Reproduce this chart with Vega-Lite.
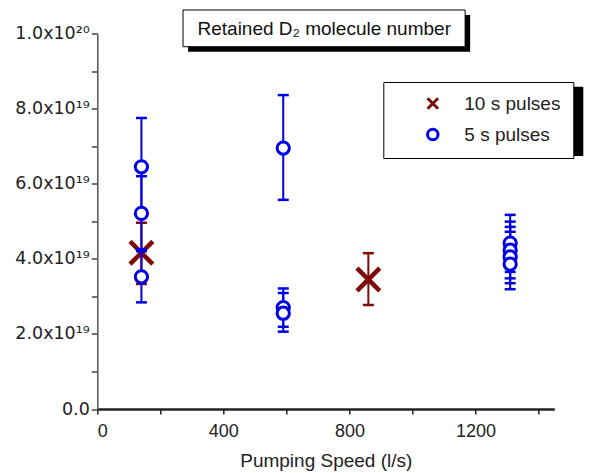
{
  "$schema": "https://vega.github.io/schema/vega-lite/v6.json",
  "autosize": "none",
  "padding": {"left": 97.3, "top": 33.5, "right": 34.7, "bottom": 64},
  "width": 457,
  "height": 375.5,
  "background": "white",
  "data": {"values": [
    {"series": "10 s pulses", "speed": 140, "n": 4.16e19, "lo": 3.33e19, "hi": 4.96e19},
    {"series": "10 s pulses", "speed": 860, "n": 3.45e19, "lo": 2.77e19, "hi": 4.15e19},
    {"series": "5 s pulses", "speed": 140, "n": 6.45e19, "lo": 5.15e19, "hi": 7.75e19},
    {"series": "5 s pulses", "speed": 140, "n": 5.21e19, "lo": 4.25e19, "hi": 6.2e19},
    {"series": "5 s pulses", "speed": 140, "n": 3.52e19, "lo": 2.84e19, "hi": 4.2e19},
    {"series": "5 s pulses", "speed": 590, "n": 6.95e19, "lo": 5.57e19, "hi": 8.36e19},
    {"series": "5 s pulses", "speed": 590, "n": 2.7e19, "lo": 2.19e19, "hi": 3.21e19},
    {"series": "5 s pulses", "speed": 590, "n": 2.55e19, "lo": 2.06e19, "hi": 3.09e19},
    {"series": "5 s pulses", "speed": 1310, "n": 4.42e19, "lo": 3.65e19, "hi": 5.17e19},
    {"series": "5 s pulses", "speed": 1310, "n": 4.23e19, "lo": 3.48e19, "hi": 4.99e19},
    {"series": "5 s pulses", "speed": 1310, "n": 4.05e19, "lo": 3.35e19, "hi": 4.85e19},
    {"series": "5 s pulses", "speed": 1310, "n": 3.86e19, "lo": 3.19e19, "hi": 4.72e19}
  ]},
  "layer": [
    {
      "data": {"values": [{}]},
      "mark": {"type": "rect", "color": "black"},
      "encoding": {
        "x": {"datum": 288, "type": "quantitative"},
        "x2": {"datum": 1183},
        "y": {"datum": 1.0493e20, "type": "quantitative"},
        "y2": {"datum": 0.9515e20}
      }
    },
    {
      "data": {"values": [{}]},
      "mark": {"type": "rect", "fill": "white", "stroke": "black", "strokeWidth": 1},
      "encoding": {
        "x": {"datum": 272, "type": "quantitative"},
        "x2": {"datum": 1167},
        "y": {"datum": 1.0626e20, "type": "quantitative"},
        "y2": {"datum": 0.9648e20}
      }
    },
    {
      "data": {"values": [{"label": "Retained D₂ molecule number"}]},
      "mark": {"type": "text", "font": "Liberation Sans", "fontSize": 19, "color": "#111", "align": "center", "baseline": "middle"},
      "encoding": {
        "x": {"datum": 720, "type": "quantitative"},
        "y": {"datum": 1.013e20, "type": "quantitative"},
        "text": {"field": "label"}
      }
    },
    {
      "data": {"values": [{}]},
      "mark": {"type": "rect", "color": "black"},
      "encoding": {
        "x": {"datum": 923, "type": "quantitative"},
        "x2": {"datum": 1542},
        "y": {"datum": 8.58e19, "type": "quantitative"},
        "y2": {"datum": 6.74e19}
      }
    },
    {
      "transform": [{"filter": "datum.series == '10 s pulses'"}],
      "mark": {"type": "rule", "color": "#7f0a0a", "strokeWidth": 2},
      "encoding": {
        "x": {"field": "speed", "type": "quantitative"},
        "y": {"field": "lo", "type": "quantitative"},
        "y2": {"field": "hi"}
      }
    },
    {
      "transform": [{"filter": "datum.series == '10 s pulses'"}, {"fold": ["lo", "hi"], "as": ["end", "yv"]}],
      "mark": {"type": "tick", "orient": "horizontal", "color": "#7f0a0a", "size": 11, "thickness": 2.5, "opacity": 1},
      "encoding": {
        "x": {"field": "speed", "type": "quantitative"},
        "y": {"field": "yv", "type": "quantitative"}
      }
    },
    {
      "transform": [{"filter": "datum.series == '10 s pulses'"}],
      "mark": {"type": "point", "filled": false, "size": 520, "strokeWidth": 4.5, "opacity": 1},
      "encoding": {
        "x": {"field": "speed", "type": "quantitative"},
        "y": {"field": "n", "type": "quantitative"},
        "color": {"field": "series", "type": "nominal", "scale": {"domain": ["10 s pulses", "5 s pulses"], "range": ["#7f0a0a", "#0000e6"]}},
        "shape": {"field": "series", "type": "nominal", "scale": {"domain": ["10 s pulses", "5 s pulses"], "range": ["M-1,-1L1,1M-1,1L1,-1", "circle"]}}
      }
    },
    {
      "transform": [{"filter": "datum.series == '5 s pulses'"}],
      "mark": {"type": "rule", "color": "#0000e6", "strokeWidth": 2},
      "encoding": {
        "x": {"field": "speed", "type": "quantitative"},
        "y": {"field": "lo", "type": "quantitative"},
        "y2": {"field": "hi"}
      }
    },
    {
      "transform": [{"filter": "datum.series == '5 s pulses'"}, {"fold": ["lo", "hi"], "as": ["end", "yv"]}],
      "mark": {"type": "tick", "orient": "horizontal", "color": "#0000e6", "size": 11, "thickness": 2.5, "opacity": 1},
      "encoding": {
        "x": {"field": "speed", "type": "quantitative"},
        "y": {"field": "yv", "type": "quantitative"}
      }
    },
    {
      "transform": [{"filter": "datum.series == '5 s pulses'"}],
      "mark": {"type": "point", "filled": false, "fill": "white", "size": 150, "strokeWidth": 3, "opacity": 1},
      "encoding": {
        "x": {"field": "speed", "type": "quantitative"},
        "y": {"field": "n", "type": "quantitative"},
        "color": {"field": "series", "type": "nominal", "scale": {"domain": ["10 s pulses", "5 s pulses"], "range": ["#7f0a0a", "#0000e6"]}},
        "shape": {"field": "series", "type": "nominal", "scale": {"domain": ["10 s pulses", "5 s pulses"], "range": ["M-1,-1L1,1M-1,1L1,-1", "circle"]}}
      }
    }
  ],
  "resolve": {"scale": {"x": "shared", "y": "shared"}},
  "encoding": {
    "x": {
      "type": "quantitative",
      "scale": {"domain": [0, 1450], "nice": false, "zero": false},
      "axis": {
        "values": [0, 200, 400, 600, 800, 1000, 1200, 1400],
        "format": "d",
        "labelExpr": "datum.value % 400 == 0 ? datum.label : ''",
        "title": "Pumping Speed (l/s)",
        "tickSize": 5,
        "tickWidth": 1.5,
        "tickColor": "#222",
        "domainColor": "#222",
        "domainWidth": 2.5,
        "labelFontSize": 18,
        "labelPadding": 8,
        "titleFontSize": 19,
        "titlePadding": 11
      }
    },
    "y": {
      "type": "quantitative",
      "scale": {"domain": [0, 1e20], "nice": false, "zero": false},
      "axis": {
        "values": [0, 1e19, 2e19, 3e19, 4e19, 5e19, 6e19, 7e19, 8e19, 9e19, 1e20],
        "labelExpr": "datum.value == 0 ? '0.0' : (round(datum.value/1e19) % 2 == 1 ? '' : (datum.value >= 9.9e19 ? '1.0x10²⁰' : format(datum.value/1e19, '.1f') + 'x10¹⁹'))",
        "title": null,
        "tickSize": 6,
        "tickWidth": 1.5,
        "tickColor": "#444",
        "domainColor": "#555",
        "domainWidth": 1.5,
        "labelFont": "DejaVu Sans",
        "labelFontSize": 17.5,
        "labelPadding": 2
      }
    }
  },
  "config": {
    "view": {"stroke": null},
    "axis": {"grid": false, "labelFont": "Liberation Sans", "titleFont": "Liberation Sans", "labelColor": "#222", "titleColor": "#222", "titleFontWeight": "normal"},
    "legend": {
      "orient": "none",
      "legendX": 286,
      "legendY": 48.5,
      "title": null,
      "strokeColor": "black",
      "fillColor": "white",
      "padding": 12,
      "labelFont": "Liberation Sans",
      "labelFontSize": 19,
      "labelColor": "#222",
      "symbolSize": 110,
      "symbolStrokeWidth": 3,
      "rowPadding": 8,
      "symbolOffset": 28,
      "labelOffset": 22
    }
  }
}
